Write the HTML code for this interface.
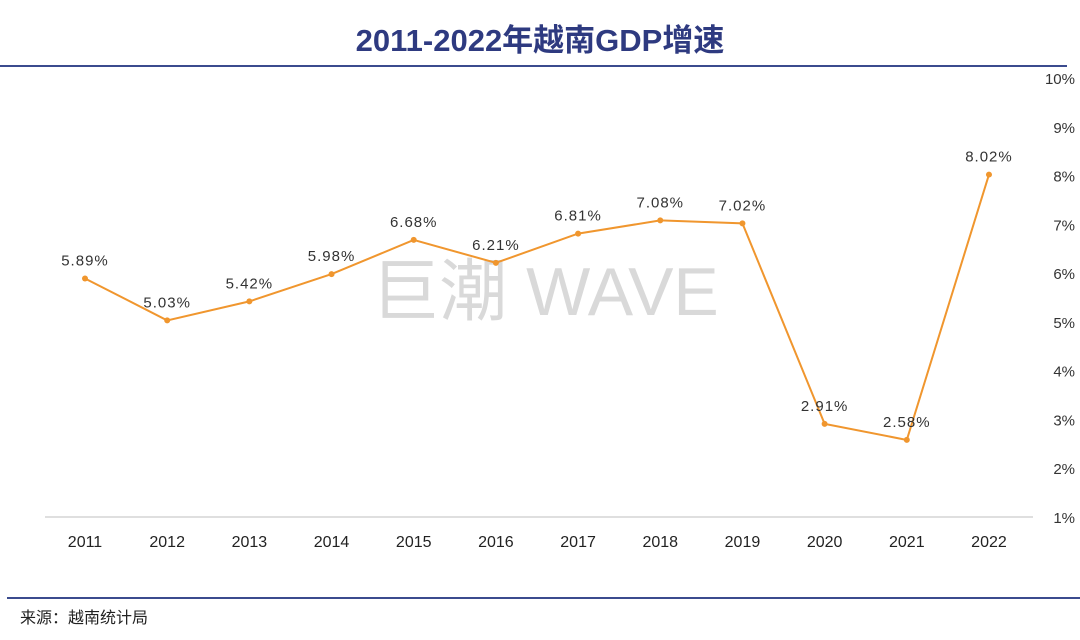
<!DOCTYPE html>
<html><head><meta charset="utf-8"><style>
body{margin:0;background:#fff;width:1080px;height:640px;overflow:hidden;position:relative;font-family:"Liberation Sans","Noto Sans CJK SC",sans-serif}
</style></head><body>
<svg width="1080" height="640" style="position:absolute;left:0;top:0">
<text x="540" y="51" text-anchor="middle" font-size="31" font-weight="bold" fill="#2E3A80" font-family="Liberation Sans,Noto Sans CJK SC,sans-serif">2011-2022年越南GDP增速</text>
<line x1="0" y1="66" x2="1067" y2="66" stroke="#3B4B8E" stroke-width="2"/>
<text x="545" y="315" text-anchor="middle" font-size="68" fill="#d9d9d9" font-family="Liberation Sans,Noto Sans CJK SC,sans-serif">巨潮 WAVE</text>
<line x1="45" y1="517" x2="1033" y2="517" stroke="#bfbfbf" stroke-width="1"/>
<g id="yticks"></g><g id="xticks"></g>
<polyline id="line" fill="none" stroke="#F0962E" stroke-width="2"/>
<g id="pts"></g>
<line x1="7" y1="598" x2="1080" y2="598" stroke="#3B4B8E" stroke-width="2"/>
<text x="20" y="623" font-size="16" fill="#222" font-family="Liberation Sans,Noto Sans CJK SC,sans-serif">来源：越南统计局</text>
</svg>
<script>
const years=["2011","2012","2013","2014","2015","2016","2017","2018","2019","2020","2021","2022"];
const growth=[5.89,5.03,5.42,5.98,6.68,6.21,6.81,7.08,7.02,2.91,2.58,8.02];
const yTicks=[1,2,3,4,5,6,7,8,9,10];
const NS="http://www.w3.org/2000/svg";
const x=i=>85+i*82.18;
const y=v=>517-(v-1)*48.78;
function mk(tag,attrs,txt){const e=document.createElementNS(NS,tag);for(const k in attrs)e.setAttribute(k,attrs[k]);if(txt!==undefined)e.textContent=txt;return e;}
const yt=document.getElementById('yticks');
yTicks.forEach(v=>{const t=mk('text',{x:1075,y:y(v)+6,'text-anchor':'end','font-size':15,fill:'#333'},v+'%');


yt.appendChild(t);});
const xt=document.getElementById('xticks');
years.forEach((yr,i)=>{const t=mk('text',{x:x(i),y:547,'text-anchor':'middle','font-size':16,fill:'#222'},yr);


xt.appendChild(t);});
document.getElementById('line').setAttribute('points',growth.map((v,i)=>x(i)+','+y(v)).join(' '));
const pts=document.getElementById('pts');
growth.forEach((v,i)=>{const c=mk('circle',{cx:x(i),cy:y(v),r:3,fill:'#F0962E'});


pts.appendChild(c);
const l=mk('text',{x:x(i),y:y(v)-13,'text-anchor':'middle','font-size':15,fill:'#333','letter-spacing':'1'},v.toFixed(2)+'%');


pts.appendChild(l);});
</script>
</body></html>
